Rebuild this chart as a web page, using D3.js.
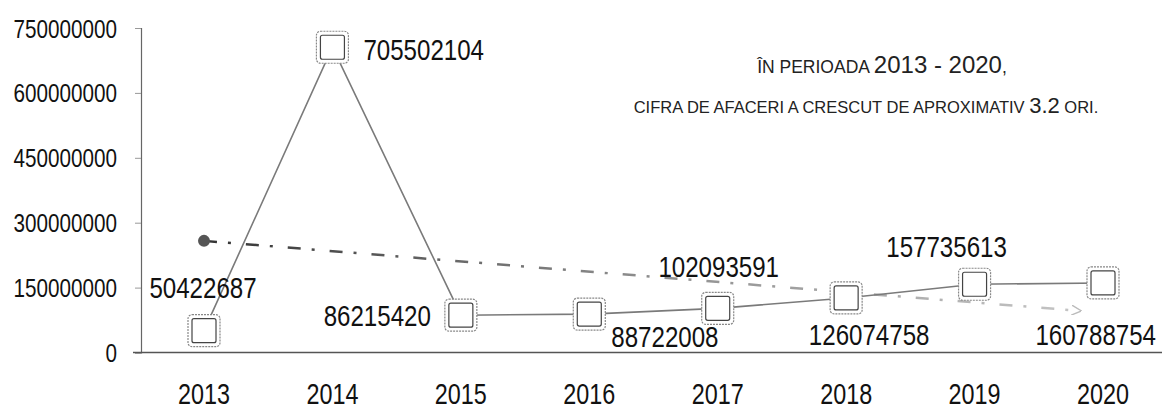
<!DOCTYPE html>
<html>
<head>
<meta charset="utf-8">
<script src="https://cdn.jsdelivr.net/npm/d3@7"></script>
<style>
  html, body { margin: 0; padding: 0; background: #fff; }
  svg { display: block; }
  text { fill: #111; }
</style>
</head>
<body>
<div id="chart"></div>
<script>
// date
const years = ['2013', '2014', '2015', '2016', '2017', '2018', '2019', '2020'];
const revenue = [50422687, 705502104, 86215420, 88722008, 102093591, 126074758, 157735613, 160788754];
const yTicks = [0, 150000000, 300000000, 450000000, 600000000, 750000000];
const trendYears = ['2013', '2020'];
const trendValues = [258000000, 92000000];
const noteLine1 = ['ÎN PERIOADA ', '2013 - 2020', ','];
const noteLine2 = ['CIFRA DE AFACERI A CRESCUT DE APROXIMATIV ', '3.2', ' ORI.'];

// pozitia etichetelor fata de marker
const labelPlacement = [
  { dx: -1, dy: -33, anchor: 'middle' },
  { dx: 31, dy: 13, anchor: 'start' },
  { dx: -30, dy: 11, anchor: 'end' },
  { dx: 22, dy: 33, anchor: 'start' },
  { dx: 1, dy: -31, anchor: 'middle' },
  { dx: 23, dy: 47, anchor: 'middle' },
  { dx: -28, dy: -27, anchor: 'middle' },
  { dx: 53, dy: 62, anchor: 'end' }
];

const width = 1162, height = 411;
const font = '"Liberation Sans", Arial, sans-serif';

// cifrele din original sunt inguste, le strangem
function squeeze(sel, perChar) {
  sel.attr('textLength', function () { return this.textContent.length * perChar; })
    .attr('lengthAdjust', 'spacingAndGlyphs');
}

const svg = d3.select('#chart').append('svg')
  .attr('width', width)
  .attr('height', height);

const x = d3.scalePoint().domain(years).range([204, 1103]);
const y = d3.scaleLinear().domain([0, 750000000]).range([352.5, 28]);

// axe
const yAxis = svg.append('g')
  .attr('transform', 'translate(141,0)')
  .call(d3.axisLeft(y).tickValues(yTicks).tickSize(6).tickPadding(18).tickFormat(d3.format('d')));
yAxis.select('.domain').attr('stroke', '#666').attr('stroke-width', 1.2);
yAxis.selectAll('.tick line').attr('stroke', '#999');
yAxis.selectAll('.tick text')
  .attr('font-family', font)
  .attr('font-size', 25)
  .attr('dy', '0.36em')
  .call(squeeze, 11.5);

svg.append('line')
  .attr('x1', 133).attr('x2', width)
  .attr('y1', y(0)).attr('y2', y(0))
  .attr('stroke', '#555').attr('stroke-width', 1.3);

svg.append('g').selectAll('text')
  .data(years)
  .join('text')
  .attr('x', d => x(d))
  .attr('y', 404)
  .attr('text-anchor', 'middle')
  .attr('font-family', font)
  .attr('font-size', 29)
  .text(d => d)
  .call(squeeze, 13);

// linia de tendinta
const defs = svg.append('defs');
const grad = defs.append('linearGradient')
  .attr('id', 'trendGrad')
  .attr('gradientUnits', 'userSpaceOnUse')
  .attr('x1', x(trendYears[0])).attr('x2', x(trendYears[1]))
  .attr('y1', 0).attr('y2', 0);
grad.append('stop').attr('offset', '0%').attr('stop-color', '#333');
grad.append('stop').attr('offset', '45%').attr('stop-color', '#888');
grad.append('stop').attr('offset', '100%').attr('stop-color', '#c8c8c8');

defs.append('marker')
  .attr('id', 'arrow')
  .attr('viewBox', '0 0 10 10')
  .attr('refX', 9).attr('refY', 5)
  .attr('markerWidth', 10).attr('markerHeight', 10)
  .attr('markerUnits', 'userSpaceOnUse')
  .attr('orient', 'auto')
  .append('path')
  .attr('d', 'M0,0 L10,5 L0,10')
  .attr('fill', 'none')
  .attr('stroke', '#bbb')
  .attr('stroke-width', 1.5);

const t0 = [x(trendYears[0]), y(trendValues[0])];
const t1 = [x(trendYears[1]), y(trendValues[1])];
const tEnd = [t0[0] + (t1[0] - t0[0]) * 0.975, t0[1] + (t1[1] - t0[1]) * 0.975];

svg.append('line')
  .attr('x1', t0[0]).attr('y1', t0[1])
  .attr('x2', tEnd[0]).attr('y2', tEnd[1])
  .attr('stroke', 'url(#trendGrad)')
  .attr('stroke-width', 2.5)
  .attr('stroke-dasharray', '13,11,3,15')
  .attr('marker-end', 'url(#arrow)');

svg.append('circle')
  .attr('cx', t0[0]).attr('cy', t0[1])
  .attr('r', 6)
  .attr('fill', '#555');

// seria principala
const line = d3.line()
  .x((d, i) => x(years[i]))
  .y(d => y(d));

svg.append('path')
  .datum(revenue)
  .attr('d', line)
  .attr('fill', 'none')
  .attr('stroke', '#7a7a7a')
  .attr('stroke-width', 1.6);

const markers = svg.append('g').selectAll('g')
  .data(revenue)
  .join('g')
  .attr('transform', (d, i) => `translate(${x(years[i])},${y(d)})`);

markers.append('rect')
  .attr('x', -16).attr('y', -16)
  .attr('width', 32).attr('height', 32)
  .attr('rx', 4)
  .attr('fill', '#fff')
  .attr('stroke', '#888')
  .attr('stroke-width', 1.2)
  .attr('stroke-dasharray', '2,1');

markers.append('rect')
  .attr('x', -12).attr('y', -12)
  .attr('width', 24).attr('height', 24)
  .attr('rx', 2)
  .attr('fill', '#fff')
  .attr('stroke', '#444')
  .attr('stroke-width', 1.2);

// etichete valori
svg.append('g').selectAll('text')
  .data(revenue)
  .join('text')
  .attr('x', (d, i) => x(years[i]) + labelPlacement[i].dx)
  .attr('y', (d, i) => y(d) + labelPlacement[i].dy)
  .attr('text-anchor', (d, i) => labelPlacement[i].anchor)
  .attr('font-family', font)
  .attr('font-size', 29)
  .text(d => d)
  .call(squeeze, 13.4);

// nota
function note(parts, cx, baseline, small, big) {
  const t = svg.append('text')
    .attr('x', cx)
    .attr('y', baseline)
    .attr('text-anchor', 'middle')
    .attr('font-family', font)
    .style('fill', '#222');
  parts.forEach((p, i) => {
    t.append('tspan')
      .attr('font-size', i === 1 ? big : small)
      .text(p);
  });
}
note(noteLine1, 882, 73, 17.5, 24);
note(noteLine2, 866, 113, 16.5, 22);
</script>
</body>
</html>
